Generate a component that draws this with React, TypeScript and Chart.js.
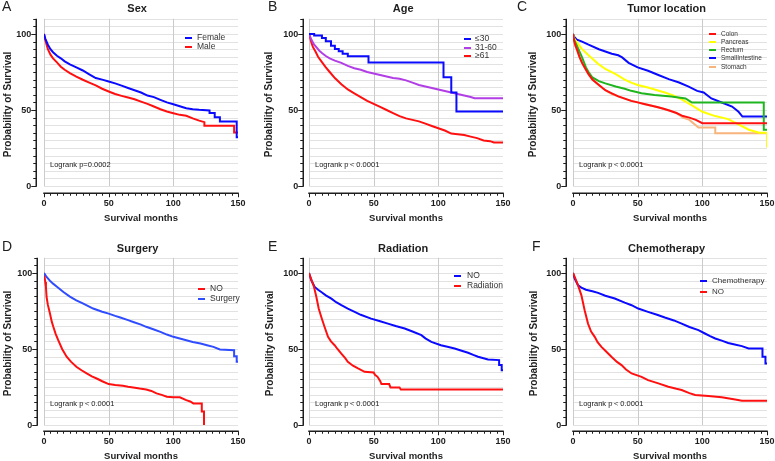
import { useEffect, useRef } from 'react';
import { Chart, registerables } from 'chart.js';

Chart.register(...registerables);

// ---------- DATA (months / survival %) ----------
const xTickLabels = [0, 50, 100, 150];
const yTickLabels = [0, 50, 100];

// A: Sex
const sexFemaleT = [0, 1, 2, 3, 5, 7, 10, 13, 16, 20, 25, 30, 35, 40, 45, 50, 55, 60, 65, 70, 75, 80, 85, 90, 95, 100, 105, 110, 115, 120, 128, 128, 132, 132, 136, 136, 149, 149, 150];
const sexFemaleS = [100, 97, 95, 93, 90, 88, 85.7, 84, 82, 80, 78, 76, 73.5, 71, 70, 68.8, 67.5, 66, 64.5, 63, 61.5, 59.5, 58.5, 56.7, 55, 53.8, 52.5, 51.2, 50.5, 50.1, 49.7, 48, 48, 45.3, 45.3, 42.4, 42.4, 32, 32];
const sexMaleT = [0, 1, 2, 3, 5, 7, 10, 13, 16, 20, 25, 30, 35, 40, 45, 50, 55, 60, 65, 70, 75, 80, 85, 90, 95, 100, 105, 110, 115, 120, 124, 124, 147, 147, 150];
const sexMaleS = [100, 96, 93, 90, 86.4, 84, 81.3, 78.5, 76.5, 74.3, 72, 69.9, 68, 66.2, 64, 62.2, 60.5, 59.3, 58.2, 57.1, 55.5, 54, 52.3, 50.5, 49, 47.9, 46.8, 46.2, 44.5, 43, 42, 39.6, 39.6, 35.2, 35.2];

// B: Age
const ageLe30T = [0, 4, 4, 10, 10, 13, 13, 17, 17, 20, 20, 23, 23, 26, 26, 30, 30, 46, 46, 104, 104, 110, 110, 114, 114, 150];
const ageLe30S = [100, 100, 99, 99, 97.4, 97.4, 95.2, 95.2, 92.3, 92.3, 90.1, 90.1, 88.6, 88.6, 87, 87, 85.3, 85.3, 81.3, 81.3, 71.6, 71.6, 61.5, 61.5, 49, 49];
const age3160T = [0, 2, 4, 6, 8, 10, 13, 16, 20, 25, 30, 35, 40, 45, 50, 55, 60, 65, 70, 75, 80, 85, 90, 95, 100, 105, 110, 115, 120, 125, 128, 150];
const age3160S = [100, 96, 93, 91, 89, 87.5, 85.5, 84, 82.5, 81, 79, 77.5, 76.5, 75, 74, 73, 72, 71, 70.5, 69.5, 68, 66.5, 65.5, 64.5, 63.5, 62.5, 61.5, 60.5, 59.5, 58.5, 57.8, 57.8];
const ageGe61T = [0, 1, 2, 3, 5, 7, 10, 13, 16, 20, 25, 30, 35, 40, 45, 50, 55, 60, 65, 70, 75, 80, 85, 90, 95, 100, 105, 110, 115, 120, 125, 130, 135, 140, 143, 150];
const ageGe61S = [100, 97, 94, 91.5, 88.5, 85, 81.5, 78, 75, 71, 67, 63.5, 61, 58.5, 56, 54, 52, 50, 48, 46, 44.5, 43.5, 42.5, 41, 39.5, 38, 36.5, 34.5, 34, 33.5, 32.5, 31.5, 30, 29.5, 28.6, 28.6];

// C: Tumor location
const colonT = [0, 1, 2, 3, 5, 7, 10, 12, 15, 20, 25, 30, 35, 40, 45, 50, 55, 60, 65, 70, 75, 80, 85, 90, 95, 100, 150];
const colonS = [100, 95, 92, 90, 85, 81, 76.5, 73.6, 70, 66.5, 63, 61, 59, 57.5, 56, 55, 54, 53, 52, 50.8, 49.5, 48, 46, 45, 43.5, 41.3, 41.3];
const pancreasT = [0, 1, 3, 7, 12, 20, 25, 33, 40, 45, 50, 58, 65, 71, 78, 84, 92, 100, 110, 120, 126, 136, 144, 150, 150];
const pancreasS = [100, 97, 94.5, 90, 86, 80, 77, 73.6, 70, 68, 66.5, 64.8, 63, 61.5, 59.5, 57, 53, 48.8, 46, 44, 41.3, 37, 35, 35, 25.3];
const rectumT = [0, 1, 3, 7, 10, 12, 15, 20, 25, 33, 40, 45, 53, 63, 76, 87, 92, 147.5, 147.5, 150];
const rectumS = [100, 96, 92.3, 84.6, 78, 75, 71.4, 69, 67.5, 65.5, 64, 62.6, 61, 59.8, 58.9, 57.6, 54.9, 54.9, 37, 37];
const smallIntT = [0, 1, 3, 7, 12, 20, 25, 30, 35, 38, 43, 50, 58, 66, 74, 82, 89, 96, 101, 107, 115, 123, 128, 131, 150];
const smallIntS = [100, 98, 96.3, 95, 93, 90, 88.5, 87, 86, 84.6, 81, 78, 75.8, 73, 70.3, 68.1, 65.5, 62.6, 61.5, 57.6, 54.9, 52.3, 48.8, 45.7, 45.7];
const stomachT = [0, 1, 2, 3, 5, 7, 10, 12, 15, 20, 25, 30, 35, 40, 45, 50, 55, 60, 65, 70, 75, 80, 85, 90, 97, 110, 110, 150];
const stomachS = [100, 95, 92, 89.5, 85, 81, 76.5, 73.6, 70, 66.5, 63, 60.5, 59, 57.5, 56, 55, 54, 53, 52, 50.8, 49.5, 48, 45, 43.5, 38.5, 38.5, 34.7, 34.7];

// D: Surgery
const surgYesT = [0, 2, 5, 7, 10, 15, 20, 25, 30, 38, 45, 50, 55, 59, 65, 69, 75, 79, 85, 90, 95, 100, 105, 110, 115, 121, 126, 131, 136, 147, 147, 149, 149, 150];
const surgYesS = [100, 97.4, 94.5, 93, 91, 87.5, 84.5, 82, 80, 76.6, 74.5, 73.3, 71.8, 70.7, 69, 67.8, 66, 64.6, 62.8, 61.3, 59.5, 58, 56.9, 55.8, 54.6, 53.6, 52.5, 51.4, 49.7, 49.2, 45.3, 45.3, 41.6, 41.6];
const surgNoT = [0, 1, 1.5, 2, 3, 4.6, 6, 7.2, 9, 11, 14, 17.5, 21, 25, 29, 33, 37, 40.7, 45, 50, 55, 61, 65, 69, 74, 79, 83, 87, 91, 95, 100, 105, 110, 113, 115.5, 122, 122, 123.7, 123.7];
const surgNoS = [100, 94, 90.8, 84.2, 79, 73.3, 68, 64.6, 60, 55.8, 50, 44.9, 41.5, 38.3, 36, 33.9, 32, 30.6, 28.8, 26.9, 26.3, 25.8, 25.2, 24.7, 24, 23.4, 22.4, 20.8, 19.8, 18.6, 18.3, 18.2, 16.4, 15.5, 14.2, 14.2, 8.8, 8.8, 0];

// E: Radiation
const radNoT = [0, 1.8, 4.4, 7, 9.5, 13, 17.3, 21, 25, 30, 35.3, 40, 48, 55, 61, 67, 74, 80, 86.9, 90, 94.6, 102, 107, 112.6, 118, 123, 127, 130.7, 138.4, 147, 147, 149, 149, 150];
const radNoS = [100, 95.2, 90.8, 89, 87.5, 85.3, 83.1, 80.8, 78.8, 76.6, 74.4, 72.5, 70, 68.3, 66.7, 65.1, 63.5, 61.5, 59.1, 57, 54.7, 52.5, 51.5, 50.3, 48.8, 47.5, 46.1, 44.9, 43.1, 42.7, 39.4, 39.4, 36.1, 36.1];
const radYesT = [0, 1.8, 3.9, 5.7, 7.5, 9.5, 12, 14.7, 17, 19.8, 22, 25, 28, 30, 34, 37.9, 43, 50, 51, 53, 55, 56, 62, 63, 70, 71, 150];
const radYesS = [100, 95.6, 90.8, 84.2, 76.6, 71.1, 64.6, 58, 55, 52.5, 50, 47, 44, 41.6, 39, 37.2, 35, 34.6, 33, 31.7, 29, 26.9, 26.9, 24.7, 24.7, 23.4, 23.4];

// F: Chemotherapy
const chemoYesT = [0, 1.3, 3.9, 6.5, 10, 15, 19.4, 25, 32.3, 40, 45.3, 50.4, 58, 65, 71, 78, 84, 90, 97, 102, 106, 110, 115, 120, 125, 130.6, 135.8, 146.5, 146.5, 148.8, 148.8, 150];
const chemoYesS = [100, 96.3, 91.9, 90.4, 89, 88, 86.9, 85, 83.2, 80.5, 78.8, 76.6, 74.4, 72.5, 70.7, 68.8, 66.7, 64.5, 62.4, 60.2, 58.5, 56.9, 55.5, 54, 53, 51.9, 50.3, 50.3, 44.9, 44.9, 40.5, 40.5];
const chemoNoT = [0, 1.3, 3.9, 6.5, 9, 11.6, 14, 16.8, 19, 22, 26, 29.7, 34, 37.5, 41, 45.3, 53, 58, 66, 73.7, 80, 84, 90, 94.4, 104.7, 115, 125.4, 130.6, 150];
const chemoNoS = [100, 97.4, 91.9, 85.3, 75.5, 66.7, 61.5, 58, 54.5, 51.4, 48, 44.9, 41.5, 39.4, 36.5, 33.9, 31.7, 29.5, 27.4, 25.2, 23.8, 23, 21, 19.7, 19, 18.2, 16.8, 16, 16];

// ---------- STYLE / LAYOUT ----------
const BLUE = '#0a0aff';
const RED = '#ff1010';
const PURPLE = '#b23ee6';
const YELLOW = '#ffff00';
const GREEN = '#1fb51f';
const PEACH = '#f7b47c';
const SURG_BLUE = '#2f4cff';
const FONT = '"Liberation Sans", Arial, Helvetica, sans-serif';

type Series = { label: string; t: number[]; s: number[]; color: string; order: number };
type Panel = {
  letter: string; title: string; logrank: string; series: Series[];
  left: number; top: number; width: number; height: number;
  pad: { left: number; right: number; top: number; bottom: number };
  yGap: number; xGap: number; letterX: number; letterY: number; titleY: number; yTitleX: number;
  legLineX: number; legTextX: number; legY: number[]; legFont: number;
};

const row1 = { top: 0, height: 230, pad: { top: 18.8, bottom: 44 }, xGap: 7, letterY: 7.5, titleY: 8.5 };
const row2 = { top: 230, height: 231, pad: { top: 27.8, bottom: 36 }, xGap: 6, letterY: 17, titleY: 18.5 };
const colA = { left: 0, width: 258, padL: 44, padR: 20 };
const colB = { left: 258, width: 258, padL: 51, padR: 13 };
const colC = { left: 516, width: 259, padL: 57, padR: 8 };

function mk(col: any, row: any, rest: any): Panel {
  return {
    left: col.left, top: row.top, width: col.width, height: row.height,
    pad: { left: col.padL, right: col.padR, top: row.pad.top, bottom: row.pad.bottom },
    xGap: row.xGap, letterY: row.letterY, titleY: row.titleY,
    ...rest,
  };
}

const LOGRANK_LT = 'Logrank p\uFF1C0.0001';

const panels: Panel[] = [
  mk(colA, row1, {
    letter: 'A', title: 'Sex', logrank: 'Logrank p=0.0002', yGap: 8, letterX: 2, yTitleX: 8,
    legLineX: 185, legTextX: 197, legY: [38, 47], legFont: 8.5,
    series: [
      { label: 'Female', t: sexFemaleT, s: sexFemaleS, color: BLUE, order: 1 },
      { label: 'Male', t: sexMaleT, s: sexMaleS, color: RED, order: 2 },
    ],
  }),
  mk(colB, row1, {
    letter: 'B', title: 'Age', logrank: LOGRANK_LT, yGap: 6, letterX: 10, yTitleX: 11,
    legLineX: 206, legTextX: 217, legY: [39, 48, 56], legFont: 8.5,
    series: [
      { label: '\u226430', t: ageLe30T, s: ageLe30S, color: BLUE, order: 1 },
      { label: '31-60', t: age3160T, s: age3160S, color: PURPLE, order: 2 },
      { label: '\u226561', t: ageGe61T, s: ageGe61S, color: RED, order: 3 },
    ],
  }),
  mk(colC, row1, {
    letter: 'C', title: 'Tumor location', logrank: LOGRANK_LT, yGap: 7, letterX: 1, yTitleX: 17,
    legLineX: 193, legTextX: 205, legY: [34, 42, 50, 58, 67], legFont: 6.5,
    series: [
      { label: 'Colon', t: colonT, s: colonS, color: RED, order: 1 },
      { label: 'Pancreas', t: pancreasT, s: pancreasS, color: YELLOW, order: 3 },
      { label: 'Rectum', t: rectumT, s: rectumS, color: GREEN, order: 2 },
      { label: 'SmallIntestine', t: smallIntT, s: smallIntS, color: BLUE, order: 4 },
      { label: 'Stomach', t: stomachT, s: stomachS, color: PEACH, order: 5 },
    ],
  }),
  mk(colA, row2, {
    letter: 'D', title: 'Surgery', logrank: LOGRANK_LT, yGap: 7, letterX: 2, yTitleX: 8,
    legLineX: 198, legTextX: 210, legY: [59, 69], legFont: 8.5,
    series: [
      { label: 'NO', t: surgNoT, s: surgNoS, color: RED, order: 2 },
      { label: 'Surgery', t: surgYesT, s: surgYesS, color: SURG_BLUE, order: 1 },
    ],
  }),
  mk(colB, row2, {
    letter: 'E', title: 'Radiation', logrank: LOGRANK_LT, yGap: 6, letterX: 10, yTitleX: 12,
    legLineX: 196, legTextX: 209, legY: [46, 56], legFont: 8.5,
    series: [
      { label: 'NO', t: radNoT, s: radNoS, color: BLUE, order: 2 },
      { label: 'Radiation', t: radYesT, s: radYesS, color: RED, order: 1 },
    ],
  }),
  mk(colC, row2, {
    letter: 'F', title: 'Chemotherapy', logrank: LOGRANK_LT, yGap: 7, letterX: 16, yTitleX: 18,
    legLineX: 184, legTextX: 196, legY: [51, 62], legFont: 8,
    series: [
      { label: 'Chemotherapy', t: chemoYesT, s: chemoYesS, color: BLUE, order: 2 },
      { label: 'NO', t: chemoNoT, s: chemoNoS, color: RED, order: 1 },
    ],
  }),
];

function decorPlugin(p: Panel) {
  const line = (ctx: CanvasRenderingContext2D, x1: number, y1: number, x2: number, y2: number) => {
    ctx.beginPath(); ctx.moveTo(x1, y1); ctx.lineTo(x2, y2); ctx.stroke();
  };
  return {
    id: 'kmDecor',
    beforeDatasetsDraw(chart: any) {
      const { ctx } = chart; const xs = chart.scales.x; const ys = chart.scales.y;
      const x0 = xs.getPixelForValue(0), x150 = xs.getPixelForValue(150);
      const y0 = ys.getPixelForValue(0), yTop = ys.getPixelForValue(110);
      ctx.save();
      ctx.lineWidth = 1;
      ctx.strokeStyle = '#e2e2e2';
      for (let v = 0; v <= 110; v += 5) {
        const y = Math.round(ys.getPixelForValue(v)) + 0.5;
        line(ctx, x0, y, x150, y);
      }
      ctx.strokeStyle = '#cbcbcb';
      for (const v of [0, 50, 100]) {
        const x = Math.round(xs.getPixelForValue(v)) + 0.5;
        line(ctx, x, yTop, x, y0);
      }
      ctx.restore();
    },
    afterDraw(chart: any) {
      const { ctx } = chart; const xs = chart.scales.x; const ys = chart.scales.y;
      const x0 = xs.getPixelForValue(0), x150 = xs.getPixelForValue(150);
      const y0 = ys.getPixelForValue(0), yTop = ys.getPixelForValue(110);
      const ax = Math.round(x0 - p.yGap) + 0.25;
      const ay = Math.round(y0 + p.xGap) + 0.25;
      ctx.save();
      ctx.strokeStyle = '#1e1e1e';
      ctx.fillStyle = '#1e1e1e';
      ctx.lineWidth = 1.5;
      // y axis
      line(ctx, ax, yTop, ax, y0 + 0.75);
      ctx.lineWidth = 1;
      for (let v = 0; v <= 110; v += 5) {
        const y = Math.round(ys.getPixelForValue(v)) + 0.5;
        const len = v % 50 === 0 ? 5 : 3;
        line(ctx, ax, y, ax - len, y);
      }
      // x axis
      ctx.lineWidth = 1.5;
      line(ctx, x0 - 0.75, ay, x150 + 0.75, ay);
      ctx.lineWidth = 1;
      for (let v = 0; v <= 150; v += 5) {
        const x = Math.round(xs.getPixelForValue(v)) + 0.5;
        const len = v % 50 === 0 ? 4 : 2.5;
        line(ctx, x, ay, x, ay + len);
      }
      // tick labels
      ctx.font = `bold 9px ${FONT}`;
      ctx.textAlign = 'right'; ctx.textBaseline = 'middle';
      for (const v of yTickLabels) ctx.fillText(String(v), ax - 5, ys.getPixelForValue(v) + 0.5);
      ctx.textAlign = 'center';
      for (const v of xTickLabels) ctx.fillText(String(v), xs.getPixelForValue(v), ay + 10.5);
      // axis titles
      ctx.font = `bold 9.5px ${FONT}`;
      ctx.fillText('Survival months', (x0 + x150) / 2, ay + 25);
      ctx.save();
      ctx.translate(p.yTitleX, (yTop + y0) / 2 + 2);
      ctx.rotate(-Math.PI / 2);
      ctx.font = `bold 10px ${FONT}`;
      ctx.fillText('Probability of Survival', 0, 0);
      ctx.restore();
      // title
      ctx.font = `bold 11px ${FONT}`;
      ctx.textAlign = 'center';
      ctx.fillText(p.title, (ax + x150) / 2, p.titleY);
      // panel letter
      ctx.font = `14px ${FONT}`;
      ctx.textAlign = 'left';
      ctx.fillText(p.letter, p.letterX, p.letterY);
      // logrank
      ctx.font = `7.5px ${FONT}`;
      ctx.fillStyle = '#222';
      ctx.fillText(p.logrank, x0 + 6, y0 - 21);
      // legend
      ctx.font = `${p.legFont}px ${FONT}`;
      ctx.lineWidth = 2;
      p.series.forEach((s, i) => {
        const y = p.legY[i];
        ctx.strokeStyle = s.color;
        line(ctx, p.legLineX, y, p.legLineX + 7, y);
        ctx.fillStyle = '#333';
        ctx.fillText(s.label, p.legTextX, y);
      });
      ctx.restore();
    },
  };
}

function PanelChart({ p }: { p: Panel }) {
  const ref = useRef<HTMLCanvasElement>(null);
  useEffect(() => {
    const chart = new Chart(ref.current as HTMLCanvasElement, {
      type: 'line',
      data: {
        datasets: p.series.map((s) => ({
          label: s.label,
          data: s.t.map((t, i) => ({ x: t, y: s.s[i] })),
          borderColor: s.color,
          backgroundColor: s.color,
          borderWidth: 2,
          pointRadius: 0,
          tension: 0,
          fill: false,
          order: s.order,
        })),
      },
      options: {
        animation: false,
        responsive: false,
        devicePixelRatio: 1,
        events: [],
        layout: { padding: p.pad },
        scales: {
          x: { type: 'linear', min: 0, max: 150, display: false },
          y: { type: 'linear', min: 0, max: 110, display: false },
        },
        plugins: { legend: { display: false }, tooltip: { enabled: false }, title: { display: false } },
      },
      plugins: [decorPlugin(p)],
    } as any);
    return () => chart.destroy();
  }, [p]);
  return (
    <canvas
      ref={ref}
      width={p.width}
      height={p.height}
      style={{ position: 'absolute', left: p.left, top: p.top, width: p.width, height: p.height }}
    />
  );
}

export default function App() {
  return (
    <div style={{ position: 'absolute', left: 0, top: 0, width: 775, height: 461, background: '#ffffff', overflow: 'hidden' }}>
      {panels.map((p) => (
        <PanelChart key={p.letter} p={p} />
      ))}
    </div>
  );
}
